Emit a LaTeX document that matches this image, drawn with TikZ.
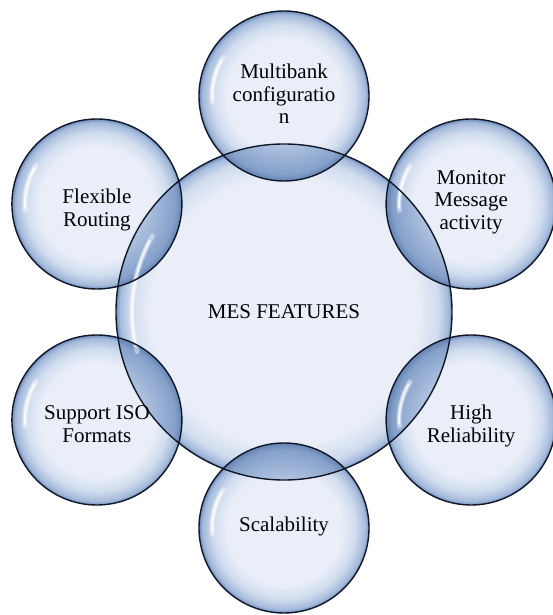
\documentclass[tikz,border=0pt]{standalone}
\usepackage{fontspec}
\setmainfont{Liberation Serif}
\definecolor{bubin}{HTML}{E9EEF8}
\definecolor{bubmid}{HTML}{D0DCEE}
\definecolor{bubout}{HTML}{A3B9DA}
\definecolor{bubrim}{HTML}{6F8CBC}
\definecolor{lensA}{HTML}{B2C4E0}
\definecolor{lensB}{HTML}{98B0D4}
\definecolor{lensC}{HTML}{85A0C9}
\definecolor{lensD}{HTML}{6683B3}
\definecolor{edgecol}{HTML}{101828}
\pgfdeclareradialshading{bubble}{\pgfpoint{0bp}{0bp}}{color(0bp)=(bubin); color(17bp)=(bubin); color(21bp)=(bubmid); color(24bp)=(bubout); color(25bp)=(bubrim); color(50bp)=(bubrim)}
\pgfdeclareradialshading{bigbubble}{\pgfpoint{0bp}{0bp}}{color(0bp)=(bubin); color(20bp)=(bubin); color(23bp)=(bubmid); color(24.5bp)=(bubout); color(25bp)=(bubrim); color(50bp)=(bubrim)}
\pgfdeclareradialshading{lensshade}{\pgfpoint{0bp}{0bp}}{color(0bp)=(lensA); color(14bp)=(lensA); color(19bp)=(lensB); color(23bp)=(lensC); color(25bp)=(lensD); color(50bp)=(lensD)}
\tikzset{
  bigbub/.style={circle, inner sep=0pt, minimum size=336pt, shading=bigbubble, draw=none},
  smallbub/.style={circle, inner sep=0pt, minimum size=170pt, shading=bubble, draw=none},
  label text/.style={align=center, font=\fontsize{21}{22.5}\selectfont, text=black, inner sep=0pt},
  rimline/.style={draw=edgecol, line width=1.4pt},
  gloss/.style={white, line cap=round, opacity=0.45, line width=5pt},
  glossin/.style={white, line cap=round, opacity=0.8, line width=2pt},
}
\begin{document}
\begin{tikzpicture}[x=1pt, y=1pt]
\useasboundingbox (0,0) rectangle (553,615);
% bubble fills
\node[bigbub] (c) at (284,303) {};
\node[smallbub] (s1) at (284,519) {};
\node[smallbub] (s2) at (471.1,411) {};
\node[smallbub] (s3) at (471.1,195) {};
\node[smallbub] (s4) at (284,87) {};
\node[smallbub] (s5) at (96.9,195) {};
\node[smallbub] (s6) at (96.9,411) {};
% overlap lenses
\begin{scope}
  \clip (c.center) circle[radius=168];
  \foreach \s in {s1,s2,s3,s4,s5,s6}{
    \shade[shading=lensshade] (\s.center) circle[radius=85];
  }
\end{scope}
% glossy highlights
\draw[gloss] ([shift={(150:152)}]c.center) arc[start angle=150, end angle=195, radius=152];
\draw[glossin] ([shift={(152:152)}]c.center) arc[start angle=152, end angle=193, radius=152];
\foreach \s in {s1,s2,s3,s4,s5,s6}{
  \draw[gloss] ([shift={(148:72)}]\s.center) arc[start angle=148, end angle=185, radius=72];
  \draw[glossin] ([shift={(150:72)}]\s.center) arc[start angle=150, end angle=183, radius=72];
}
% outlines
\draw[rimline] (c.center) circle[radius=168];
\foreach \s in {s1,s2,s3,s4,s5,s6}{
  \draw[rimline] (\s.center) circle[radius=85];
}
% texts
\node[label text] (tc) at (c.center) {MES FEATURES};
\node[label text] (t1) at ([yshift=2pt]s1.center) {Multibank\\configuratio\\n};
\node[label text] (t2) at ([yshift=2pt]s2.center) {Monitor\\Message\\activity};
\node[label text] (t3) at ([yshift=-6pt]s3.center) {High\\Reliability};
\node[label text] (t4) at ([yshift=2pt]s4.center) {Scalability};
\node[label text] (t5) at ([yshift=-4pt]s5.center) {Support ISO\\Formats};
\node[label text] (t6) at ([yshift=-6pt]s6.center) {Flexible\\Routing};
\end{tikzpicture}
\end{document}
